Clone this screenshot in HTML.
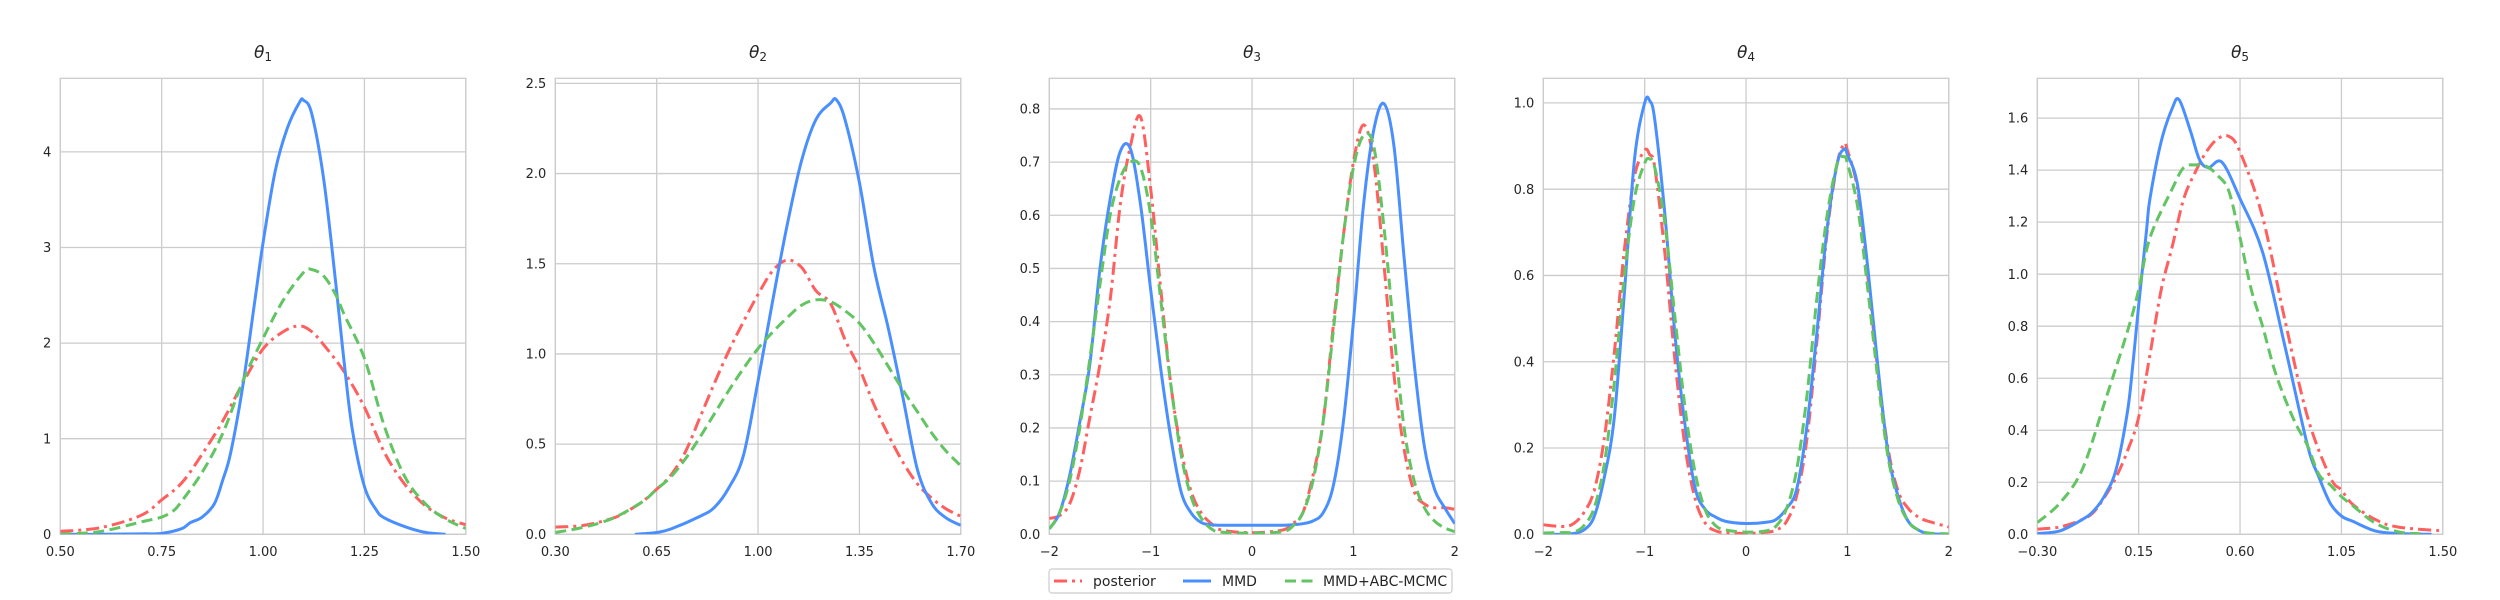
<!DOCTYPE html>
<html><head><meta charset="utf-8">
<style>
html,body{margin:0;padding:0;background:#fff;}
svg{display:block;font-family:"DejaVu Sans","Liberation Sans",sans-serif;}
</style></head>
<body>
<svg id="fig" width="2500" height="600" viewBox="0 0 2500 600" xmlns="http://www.w3.org/2000/svg"></svg>
<script>
// ---------- data ----------
const p1x = [0.5,0.6,0.7,0.75,0.8,0.82,0.85,0.88,0.9,0.92,0.95,0.98,1.0,1.03,1.06,1.09,1.1,1.12,1.15,1.18,1.2,1.22,1.25,1.28,1.3,1.35,1.4,1.45];
const p1mmd = [0,0,0.005,0.01,0.06,0.12,0.18,0.32,0.56,0.85,1.55,2.45,3.05,3.8,4.25,4.52,4.54,4.4,3.7,2.6,1.8,1.1,0.5,0.25,0.17,0.08,0.02,0];
const p1rx = [0.5,0.6,0.7,0.75,0.8,0.85,0.9,0.95,1.0,1.05,1.09,1.12,1.15,1.2,1.25,1.3,1.35,1.4,1.45,1.5];
const p1post = [0.03,0.07,0.2,0.36,0.54,0.84,1.18,1.58,1.94,2.12,2.18,2.12,1.98,1.7,1.33,0.85,0.52,0.3,0.17,0.1];
const p1gx = [0.5,0.6,0.7,0.75,0.78,0.8,0.85,0.9,0.95,1.0,1.05,1.1,1.12,1.15,1.18,1.2,1.25,1.3,1.35,1.4,1.45,1.5];
const p1abc = [0,0.03,0.13,0.18,0.25,0.35,0.65,1.05,1.6,2.05,2.45,2.74,2.77,2.7,2.5,2.3,1.84,1.12,0.6,0.32,0.16,0.06];

const p2bx = [0.575,0.65,0.7,0.8,0.85,0.9,0.95,1.0,1.05,1.1,1.15,1.2,1.25,1.27,1.3,1.35,1.4,1.45,1.5,1.55,1.6,1.65,1.7];
const p2mmd = [0,0.01,0.03,0.1,0.15,0.26,0.44,0.85,1.29,1.71,2.07,2.3,2.39,2.41,2.3,1.95,1.48,1.14,0.76,0.36,0.17,0.09,0.05];
const p2rx = [0.3,0.4,0.5,0.55,0.6,0.65,0.7,0.75,0.8,0.85,0.9,0.95,1.0,1.05,1.1,1.15,1.2,1.25,1.3,1.35,1.4,1.45,1.5,1.55,1.6,1.65,1.7];
const p2post = [0.04,0.05,0.09,0.13,0.18,0.25,0.33,0.46,0.65,0.84,1.02,1.18,1.33,1.46,1.52,1.48,1.35,1.28,1.08,0.92,0.72,0.55,0.4,0.28,0.2,0.14,0.1];
const p2gx = [0.3,0.4,0.5,0.6,0.65,0.7,0.75,0.8,0.85,0.9,0.95,1.0,1.05,1.1,1.15,1.2,1.25,1.3,1.35,1.4,1.45,1.5,1.55,1.6,1.65,1.7];
const p2abc = [0.01,0.04,0.09,0.18,0.25,0.32,0.42,0.54,0.67,0.8,0.92,1.03,1.12,1.2,1.27,1.3,1.29,1.24,1.17,1.06,0.93,0.8,0.68,0.56,0.46,0.38];

const p3x = [-2,-1.9,-1.8,-1.7,-1.6,-1.5,-1.4,-1.3,-1.2,-1.1,-1.0,-0.9,-0.8,-0.7,-0.6,-0.5,-0.4,-0.3,0,0.3,0.4,0.5,0.6,0.7,0.8,0.9,1.0,1.1,1.2,1.3,1.4,1.5,1.6,1.7,1.8,1.9,2.0];
const p3mmd = [0.01,0.04,0.11,0.21,0.32,0.5,0.63,0.72,0.725,0.62,0.46,0.31,0.18,0.08,0.04,0.022,0.018,0.017,0.017,0.017,0.018,0.02,0.025,0.04,0.09,0.21,0.4,0.62,0.76,0.81,0.73,0.52,0.32,0.165,0.085,0.05,0.02];
const p3post = [0.03,0.035,0.057,0.12,0.22,0.32,0.44,0.62,0.73,0.785,0.65,0.46,0.28,0.16,0.08,0.04,0.02,0.008,0.003,0.008,0.02,0.04,0.11,0.21,0.39,0.56,0.7,0.77,0.7,0.51,0.3,0.16,0.08,0.057,0.05,0.05,0.047];
const p3abc = [0.01,0.04,0.1,0.2,0.33,0.47,0.6,0.67,0.7,0.69,0.6,0.44,0.28,0.15,0.07,0.03,0.01,0.004,0.002,0.005,0.015,0.04,0.1,0.21,0.38,0.56,0.69,0.75,0.73,0.58,0.38,0.2,0.1,0.05,0.025,0.012,0.005];

const p4x = [-2,-1.8,-1.7,-1.6,-1.5,-1.4,-1.3,-1.2,-1.1,-1.0,-0.95,-0.9,-0.8,-0.7,-0.6,-0.5,-0.4,-0.3,-0.2,0,0.2,0.3,0.4,0.5,0.6,0.7,0.8,0.9,0.97,1.0,1.1,1.2,1.3,1.4,1.5,1.6,1.7,1.8,2.0];
const p4mmd = [0,0,0.002,0.01,0.04,0.13,0.27,0.56,0.87,1.0,1.005,0.96,0.74,0.46,0.25,0.105,0.057,0.04,0.03,0.025,0.028,0.035,0.06,0.105,0.25,0.47,0.71,0.86,0.893,0.88,0.81,0.62,0.39,0.19,0.088,0.03,0.01,0.002,0];
const p4post = [0.022,0.018,0.025,0.05,0.1,0.22,0.42,0.66,0.83,0.89,0.88,0.85,0.65,0.4,0.2,0.08,0.025,0.008,0.004,0.002,0.005,0.01,0.03,0.09,0.22,0.45,0.7,0.86,0.905,0.89,0.8,0.6,0.38,0.2,0.1,0.06,0.04,0.03,0.017];
const p4abc = [0.003,0.004,0.005,0.02,0.06,0.16,0.35,0.6,0.78,0.86,0.87,0.85,0.72,0.5,0.29,0.14,0.055,0.02,0.01,0.005,0.008,0.02,0.06,0.15,0.32,0.55,0.74,0.86,0.875,0.86,0.76,0.57,0.36,0.18,0.08,0.03,0.01,0.003,0.001];

const p5bx = [-0.3,-0.2,-0.1,-0.05,0.0,0.05,0.1,0.125,0.15,0.185,0.2,0.25,0.3,0.33,0.38,0.42,0.46,0.52,0.6,0.7,0.8,0.9,0.95,1.0,1.05,1.1,1.2,1.3,1.45];
const p5mmd = [0.003,0.013,0.057,0.09,0.15,0.25,0.47,0.66,0.88,1.17,1.29,1.51,1.64,1.67,1.55,1.44,1.41,1.43,1.29,1.085,0.72,0.34,0.22,0.12,0.07,0.05,0.013,0.003,0];
const p5rx = [-0.3,-0.2,-0.1,-0.05,0.0,0.05,0.1,0.15,0.2,0.25,0.3,0.35,0.4,0.45,0.5,0.55,0.6,0.7,0.8,0.9,1.0,1.05,1.1,1.2,1.3,1.5];
const p5post = [0.02,0.028,0.057,0.085,0.145,0.22,0.32,0.45,0.69,0.94,1.11,1.29,1.39,1.47,1.52,1.53,1.47,1.22,0.82,0.45,0.22,0.17,0.115,0.057,0.028,0.013];
const p5gx = [-0.3,-0.2,-0.1,0.0,0.1,0.15,0.2,0.3,0.35,0.4,0.45,0.5,0.55,0.6,0.65,0.7,0.75,0.8,0.85,0.9,0.95,1.0,1.05,1.1,1.2,1.3,1.4];
const p5abc = [0.045,0.12,0.25,0.51,0.78,0.94,1.14,1.33,1.41,1.42,1.415,1.38,1.32,1.14,0.94,0.8,0.64,0.52,0.42,0.34,0.23,0.19,0.145,0.11,0.043,0.01,0.002];

const titles = ["1","2","3","4","5"];
const xlims = [[0.5,1.5],[0.3,1.7],[-2,2],[-2,2],[-0.3,1.5]];
const ylims = [[0,4.77],[0,2.528],[0,0.8576],[0,1.057],[0,1.753]];
const xticks = [[0.5,0.75,1.0,1.25,1.5],[0.3,0.65,1.0,1.35,1.7],[-2,-1,0,1,2],[-2,-1,0,1,2],[-0.3,0.15,0.6,1.05,1.5]];
const xtickLabels = [["0.50","0.75","1.00","1.25","1.50"],["0.30","0.65","1.00","1.35","1.70"],["\u22122","\u22121","0","1","2"],["\u22122","\u22121","0","1","2"],["\u22120.30","0.15","0.60","1.05","1.50"]];
const yticks = [[0,1,2,3,4],[0,0.5,1,1.5,2,2.5],[0,0.1,0.2,0.3,0.4,0.5,0.6,0.7,0.8],[0,0.2,0.4,0.6,0.8,1.0],[0,0.2,0.4,0.6,0.8,1.0,1.2,1.4,1.6]];
const ytickLabels = [["0","1","2","3","4"],["0.0","0.5","1.0","1.5","2.0","2.5"],["0.0","0.1","0.2","0.3","0.4","0.5","0.6","0.7","0.8"],["0.0","0.2","0.4","0.6","0.8","1.0"],["0.0","0.2","0.4","0.6","0.8","1.0","1.2","1.4","1.6"]];

const panels = [
 {post:[p1rx,p1post], mmd:[p1x,p1mmd], abc:[p1gx,p1abc]},
 {post:[p2rx,p2post], mmd:[p2bx,p2mmd], abc:[p2gx,p2abc]},
 {post:[p3x,p3post], mmd:[p3x,p3mmd], abc:[p3x,p3abc]},
 {post:[p4x,p4post], mmd:[p4x,p4mmd], abc:[p4x,p4abc]},
 {post:[p5rx,p5post], mmd:[p5bx,p5mmd], abc:[p5gx,p5abc]}
];

// ---------- drawing ----------
const NS = "http://www.w3.org/2000/svg";
const svg = document.getElementById("fig");
const lefts = [60.3,555.3,1049.3,1543.3,2037.3];
const W = 405.5, TOP = 78.3, BOT = 534.3;
const RED="#ff5f5f", BLUE="#4a8fff", GREEN="#62c462";
function mk(tag, attrs, parent){
  const e = document.createElementNS(NS, tag);
  for (const k in attrs) e.setAttribute(k, attrs[k]);
  (parent||svg).appendChild(e);
  return e;
}
function smoothPath(pts){
  let d = "M"+pts[0][0].toFixed(2)+","+pts[0][1].toFixed(2);
  for (let i=0;i<pts.length-1;i++){
    const p0=pts[Math.max(0,i-1)], p1=pts[i], p2=pts[i+1], p3=pts[Math.min(pts.length-1,i+2)];
    const c1x=p1[0]+(p2[0]-p0[0])/6, c1y=p1[1]+(p2[1]-p0[1])/6;
    const c2x=p2[0]-(p3[0]-p1[0])/6, c2y=p2[1]-(p3[1]-p1[1])/6;
    d += " C"+c1x.toFixed(2)+","+c1y.toFixed(2)+" "+c2x.toFixed(2)+","+c2y.toFixed(2)+" "+p2[0].toFixed(2)+","+p2[1].toFixed(2);
  }
  return d;
}
panels.forEach((pd, i) => {
  const L = lefts[i], R = L + W;
  const [x0,x1] = xlims[i], [y0,y1] = ylims[i];
  const sx = v => L + (v-x0)/(x1-x0)*W;
  const sy = v => BOT - (v-y0)/(y1-y0)*(BOT-TOP);
  const g = mk("g", {});
  
  
  const clipId = "clip"+i;
  const cp = mk("clipPath", {id:clipId}, g);
  mk("rect", {x:L, y:TOP, width:W, height:BOT-TOP}, cp);
  xticks[i].forEach((t, j) => {
    const gl = mk("line", {x1:sx(t), x2:sx(t), y1:TOP, y2:BOT, stroke:"#cccccc", "stroke-width":1.3}, g);
    
    
    const tl = mk("text", {x:sx(t), y:556, "text-anchor":"middle", "font-size":13, fill:"#262626"}, g);
    tl.textContent = xtickLabels[i][j];
    
    
  });
  yticks[i].forEach((t, j) => {
    const gl = mk("line", {x1:L, x2:R, y1:sy(t), y2:sy(t), stroke:"#cccccc", "stroke-width":1.3}, g);
    
    
    const tl = mk("text", {x:L-9, y:sy(t)+4.6, "text-anchor":"end", "font-size":13, fill:"#262626"}, g);
    tl.textContent = ytickLabels[i][j];
    
    
  });
  const frame = mk("rect", {x:L, y:TOP, width:W, height:BOT-TOP, fill:"none", stroke:"#cccccc", "stroke-width":1.3}, g);
  
  
  const tt = mk("text", {x:L+W/2, y:58, "text-anchor":"middle", "font-size":17, fill:"#262626"}, g);
  
  
  const th = mk("tspan", {"font-style":"italic"}, tt); th.textContent = "\u03b8";
  const sb = mk("tspan", {"font-size":12, dy:3}, tt); sb.textContent = titles[i];
  const series = [
    ["post", RED, "13 5 3 5", "posterior-curve"],
    ["mmd", BLUE, null, "mmd-curve"],
    ["abc", GREEN, "11 5.5", "mmd-abc-mcmc-curve"]
  ];
  series.forEach(s => {
    const [xs, ys] = pd[s[0]];
    const pts = xs.map((x,k)=>[sx(x), sy(ys[k])]);
    const a = {d:smoothPath(pts), fill:"none", stroke:s[1], "stroke-width":3, "clip-path":"url(#"+clipId+")", "stroke-linejoin":"round"};
    if (s[2]) a["stroke-dasharray"] = s[2];
    const p = mk("path", a, g);
    
    
  });
});
const lg = mk("g", {});


mk("rect", {x:1049, y:569, width:403, height:24, rx:3, fill:"#fff", stroke:"#cccccc", "stroke-width":1.2}, lg);
const entries = [["posterior", RED, "13 5 3 5", 1054, 1093],["MMD", BLUE, null, 1183, 1222],["MMD+ABC-MCMC", GREEN, "11 5.5", 1285, 1323]];
entries.forEach(e => {
  const eg = mk("g", {}, lg);
  
  
  const a = {x1:e[3], x2:e[3]+28, y1:581, y2:581, stroke:e[1], "stroke-width":3};
  if (e[2]) a["stroke-dasharray"] = e[2];
  mk("line", a, eg);
  const t = mk("text", {x:e[4], y:586, "font-size":14, fill:"#262626"}, eg);
  t.textContent = e[0];
});
</script>
</body></html>
